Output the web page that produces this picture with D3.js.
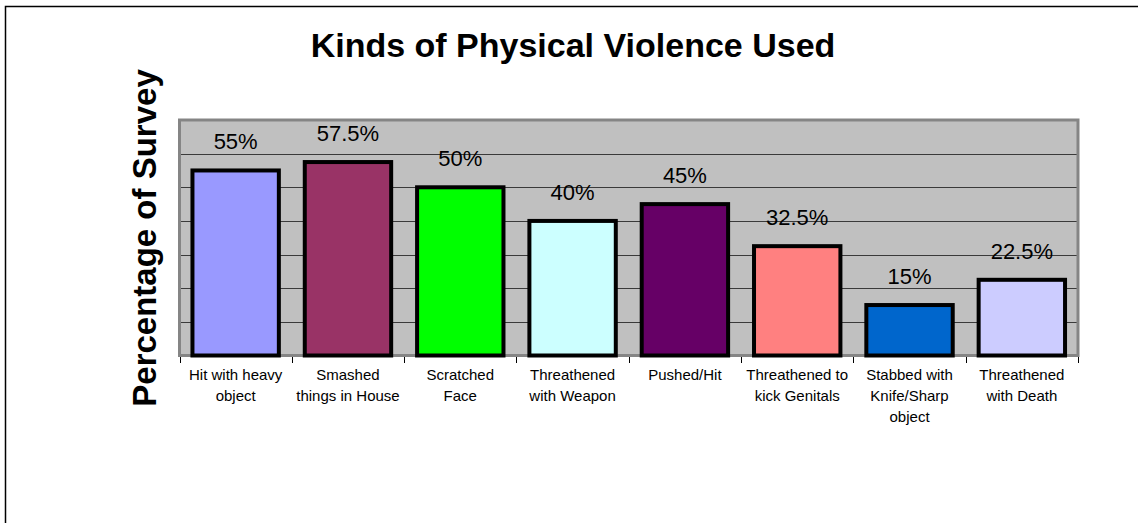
<!DOCTYPE html>
<html>
<head>
<meta charset="utf-8">
<script src="https://cdn.jsdelivr.net/npm/d3@7"></script>
<style>
  html, body { margin: 0; padding: 0; background: #ffffff; }
  svg { display: block; font-family: Arial, "Liberation Sans", sans-serif; }
</style>
</head>
<body>
<svg id="chart" width="1138" height="523"></svg>
<script>
// ---- data ----
const categories = [
  ["Hit with heavy", "object"],
  ["Smashed", "things in House"],
  ["Scratched", "Face"],
  ["Threathened", "with Weapon"],
  ["Pushed/Hit"],
  ["Threathened to", "kick Genitals"],
  ["Stabbed with", "Knife/Sharp", "object"],
  ["Threathened", "with Death"]
];
const values = [55, 57.5, 50, 40, 45, 32.5, 15, 22.5];
const valueLabels = ["55%", "57.5%", "50%", "40%", "45%", "32.5%", "15%", "22.5%"];
const barColors = ["#9999FF", "#993366", "#00FF00", "#CCFFFF", "#660066", "#FF8080", "#0066CC", "#CCCCFF"];
const yTicks = [0, 10, 20, 30, 40, 50, 60, 70];
const titleText = "Kinds of Physical Violence Used";
const yTitleText = "Percentage of Survey";

// ---- layout ----
const svg = d3.select("#chart");
const plot = { left: 179.5, right: 1078, top: 120, bottom: 355.5 };

// outer chart border
svg.append("rect")
  .attr("x", 5.5).attr("y", 6.5)
  .attr("width", 1200).attr("height", 600)
  .attr("fill", "#ffffff")
  .attr("stroke", "#000000").attr("stroke-width", 1.5);

const idx = d3.range(categories.length);
const x = d3.scaleBand().domain(idx).range([plot.left, plot.right]).paddingInner(0).paddingOuter(0);
const y = d3.scaleLinear().domain([0, 70]).range([plot.bottom, plot.top]);

// plot background
svg.append("rect")
  .attr("x", plot.left).attr("y", plot.top)
  .attr("width", plot.right - plot.left).attr("height", plot.bottom - plot.top)
  .attr("fill", "#C0C0C0");

// gridlines
svg.append("g")
  .selectAll("line")
  .data(yTicks.filter(t => t > 0 && t < 70))
  .join("line")
  .attr("x1", plot.left).attr("x2", plot.right)
  .attr("y1", d => Math.round(y(d)) + 0.5).attr("y2", d => Math.round(y(d)) + 0.5)
  .attr("stroke", "#3a3a3a").attr("stroke-width", 1);

// plot border
svg.append("rect")
  .attr("x", plot.left).attr("y", plot.top)
  .attr("width", plot.right - plot.left).attr("height", plot.bottom - plot.top)
  .attr("fill", "none")
  .attr("stroke", "#858585").attr("stroke-width", 3);

// x axis ticks at category boundaries
const xAxis = d3.axisBottom(x).tickSize(0).tickFormat("");
const gx = svg.append("g").attr("transform", `translate(0,${plot.bottom + 1.5})`).call(xAxis);
gx.select(".domain").remove();
const boundaries = idx.map(i => x(i)).concat([plot.right]);
gx.selectAll("line.bound")
  .data(boundaries)
  .join("line")
  .attr("class", "bound")
  .attr("x1", d => Math.round(d) + 0.5).attr("x2", d => Math.round(d) + 0.5)
  .attr("y1", 0).attr("y2", 6)
  .attr("stroke", "#000").attr("stroke-width", 1);

// bars
const barW = x.bandwidth() / 1.3;
svg.append("g")
  .selectAll("rect")
  .data(values)
  .join("rect")
  .attr("x", (d, i) => x(i) + (x.bandwidth() - barW) / 2)
  .attr("y", d => y(d))
  .attr("width", barW)
  .attr("height", d => y(0) - y(d))
  .attr("fill", (d, i) => barColors[i])
  .attr("stroke", "#000000")
  .attr("stroke-width", 4);

// value labels
svg.append("g")
  .selectAll("text")
  .data(values)
  .join("text")
  .attr("x", (d, i) => x(i) + x.bandwidth() / 2)
  .attr("y", d => y(d) - 21)
  .attr("text-anchor", "middle")
  .attr("font-size", 22)
  .attr("fill", "#000")
  .text((d, i) => valueLabels[i]);

// category labels
const cat = svg.append("g")
  .selectAll("text")
  .data(categories)
  .join("text")
  .attr("text-anchor", "middle")
  .attr("font-size", 15)
  .attr("fill", "#000");
cat.each(function(lines, i) {
  d3.select(this).selectAll("tspan")
    .data(lines)
    .join("tspan")
    .attr("x", x(i) + x.bandwidth() / 2)
    .attr("y", (l, j) => 380 + j * 21)
    .text(l => l);
});

// title
svg.append("text")
  .attr("x", 573).attr("y", 56.5)
  .attr("text-anchor", "middle")
  .attr("font-size", 34).attr("font-weight", "bold")
  .text(titleText);

// y axis title
svg.append("text")
  .attr("transform", "translate(155.5,238) rotate(-90)")
  .attr("text-anchor", "middle")
  .attr("font-size", 33).attr("font-weight", "bold")
  .text(yTitleText);
</script>
</body>
</html>
